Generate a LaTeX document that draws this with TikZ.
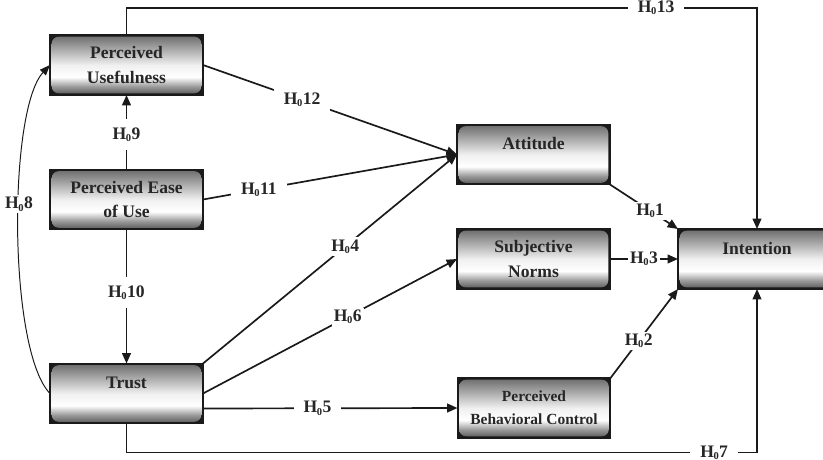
\documentclass[tikz,border=0pt]{standalone}
\usepackage{fontspec}
\setmainfont{Liberation Serif}
\usepackage{xcolor}
\definecolor{cLine}{HTML}{1A1A1A}
\definecolor{cText}{HTML}{262626}
\definecolor{cShadeT}{HTML}{6A6A6A}
\definecolor{cShadeB}{HTML}{555555}
\usepackage{tikz}
\usetikzlibrary{positioning,arrows.meta,calc}
\pgfdeclareverticalshading{box-shade}{100bp}{%
  color(0bp)=(cShadeB); color(25bp)=(cShadeB); color(32bp)=(black!40);
  color(40bp)=(white); color(50bp)=(white!94!black); color(75bp)=(cShadeT);
  color(100bp)=(cShadeT)}
\newcommand{\hz}[1]{H\kern-0.3pt\raisebox{-1.6pt}{\fontsize{7.5}{8}\selectfont 0}\kern0.3pt#1}
\tikzset{
  node-box/.style={draw=cLine,line width=1.2pt,fill=cLine,rectangle,
    minimum width=3.825cm,minimum height=1.5cm,inner sep=0pt,outer sep=0pt,
    align=center,text=cText,font=\fontsize{12.5}{17.5}\selectfont\bfseries,
    path picture={\shade[shading=box-shade,rounded corners=5pt]
      ([shift={(1.2pt,1.2pt)}]path picture bounding box.south west) rectangle
      ([shift={(-1.2pt,-1.2pt)}]path picture bounding box.north east);}},
  node-one/.style={text height=9pt,text depth=16pt},
  arrow/.style={-{Triangle[length=2.6mm,width=2.2mm]},line width=1.2pt,draw=cLine},
  arrow-thin/.style={-{Triangle[length=2.6mm,width=2mm]},line width=0.7pt,draw=cLine},
  hyp/.style={fill=white,inner sep=1.5pt,text=cText,
    font=\fontsize{12.5}{15}\selectfont\bfseries},
  hyp-wide/.style={hyp,inner xsep=7pt,inner ysep=6pt},
}
\begin{document}
\begin{tikzpicture}[x=0.025cm,y=-0.025cm]
  \useasboundingbox (0,0) rectangle (823,460);
  \node[node-box] (pu) at (126.5,65) {Perceived\\Usefulness};
  \node[node-box] (peu) at (126.5,199.5) {Perceived Ease\\of Use};
  \node[node-box,node-one] (tr) at (126.5,393.5) {Trust};
  \node[node-box,node-one] (att) at (533.5,154.5) {Attitude};
  \node[node-box] (sn) at (533.5,259) {Subjective\\Norms};
  \node[node-box,font=\fontsize{11}{16.5}\selectfont\bfseries] (pbc) at (534,408)
       {Perceived\\Behavioral Control};
  \node[node-box,node-one,minimum width=3.95cm] (int) at (757,259) {Intention};
  \draw[arrow] (peu) -- node[hyp-wide,pos=0.47]{\hz{9}} (pu);
  \draw[arrow] (peu) -- node[hyp-wide,pos=0.47]{\hz{10}} (tr);
  \draw[arrow] (pu.east) -- node[hyp-wide,pos=0.39]{\hz{12}} (att.west);
  \draw[arrow] (peu.east) -- node[hyp-wide,pos=0.22]{\hz{11}} (att.west);
  \draw[arrow] (tr.north east) -- node[hyp,pos=0.56]{\hz{4}} (att.west);
  \draw[arrow] (tr.east) -- node[hyp,pos=0.57]{\hz{6}} (sn.west);
  \draw[arrow] ($(tr.east)+(0,15)$) -- node[hyp-wide,pos=0.45]{\hz{5}} (pbc.west);
  \draw[arrow] (att.south east) -- node[hyp,pos=0.59]{\hz{1}} (int.north west);
  \draw[arrow] (sn.east) -- node[hyp]{\hz{3}} (int.west);
  \draw[arrow] (pbc.north east) -- node[hyp,pos=0.42]{\hz{2}} (int.south west);
  \draw[arrow] (pu.north) -- ++(0,-27) -| node[hyp-wide,pos=0.42]{\hz{13}} (int.north);
  \draw[arrow] (tr.south) -- ++(0,29) -| node[hyp-wide,pos=0.466]{\hz{7}} (int.south);
  \draw[arrow-thin] (tr.west) .. controls (8,350) and (8,110) ..
       node[hyp,pos=0.56]{\hz{8}} (pu.west);
\end{tikzpicture}
\end{document}
